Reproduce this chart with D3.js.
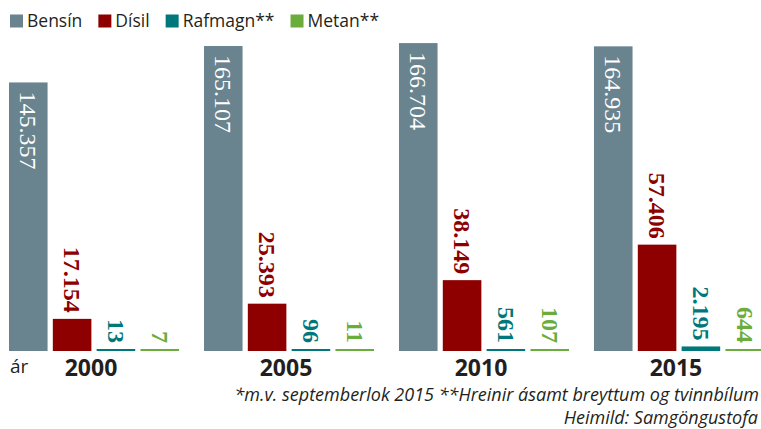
<!DOCTYPE html>
<html>
<head>
<meta charset="utf-8">
<script src="https://cdn.jsdelivr.net/npm/d3@7"></script>
<style>
	html, body { margin: 0; padding: 0; background: #fff; }
	svg { display: block; }
</style>
</head>
<body>
<div id="chart"></div>
<script>
// data
const years = ['2000', '2005', '2010', '2015'];
const series = ['Bensín', 'Dísil', 'Rafmagn**', 'Metan**'];
const bensin = [145357, 165107, 166704, 164935];
const disil = [17154, 25393, 38149, 57406];
const rafmagn = [13, 96, 561, 2195];
const metan = [7, 11, 107, 644];
const colors = ['#69848f', '#8e0000', '#00787b', '#6aad3c'];
const footnote = '*m.v. septemberlok 2015 **Hreinir ásamt breyttum og tvinnbílum';
const source = 'Heimild: Samgöngustofa';

const values = [bensin, disil, rafmagn, metan];
const width = 761, height = 429;
const ink = '#231f20';
const sans = '"Open Sans", sans-serif';
const serif = '"Liberation Serif", serif';

const locale = d3.formatLocale({decimal: ',', thousands: '.', grouping: [3], currency: ['', '']});
const fmt = locale.format(',');

const svg = d3.select('#chart').append('svg')
	.attr('width', width)
	.attr('height', height);

// scales
const x0 = d3.scaleBand()
	.domain(years)
	.range([9, 764])
	.paddingInner(0.128);

const x1 = d3.scaleBand()
	.domain(series)
	.range([0, x0.bandwidth()])
	.paddingInner(0.12);

const y = d3.scaleLinear()
	.domain([0, 170000])
	.range([351, 37.5]);

const color = d3.scaleOrdinal().domain(series).range(colors);

// flatten into bar records
const bars = [];
years.forEach((yr, i) => {
	series.forEach((s, j) => {
		bars.push({year: yr, key: s, value: values[j][i], idx: j});
	});
});

const barTop = d => Math.min(y(d.value) - 0.5, y(0) - 2);

const groups = svg.append('g').classed('bars', true);

groups.selectAll('rect')
	.data(bars)
	.join('rect')
	.attr('x', d => x0(d.year) + x1(d.key))
	.attr('width', x1.bandwidth())
	.attr('y', barTop)
	.attr('height', d => y(0) - barTop(d))
	.attr('fill', d => color(d.key));

// value labels, turned to read top to bottom
groups.selectAll('text')
	.data(bars)
	.join('text')
	.attr('transform', d => {
		const cx = x0(d.year) + x1(d.key) + x1.bandwidth() / 2;
		const ty = d.idx === 0 ? barTop(d) + 9 : barTop(d) - 6;
		return `translate(${cx}, ${ty}) rotate(90)`;
	})
	.attr('dy', '0.34em')
	.attr('text-anchor', d => d.idx === 0 ? 'start' : 'end')
	.attr('font-family', serif)
	.attr('font-size', 24)
	.attr('font-weight', d => d.idx === 0 ? 'normal' : 'bold')
	.attr('fill', d => d.idx === 0 ? '#fff' : color(d.key))
	.text(d => fmt(d.value));

// year labels
svg.append('g')
	.selectAll('text')
	.data(years)
	.join('text')
	.attr('x', d => x0(d) + x0.bandwidth() / 2 - 3)
	.attr('y', 376)
	.attr('text-anchor', 'middle')
	.attr('font-family', sans)
	.attr('font-weight', 'bold')
	.attr('font-size', 23)
	.attr('fill', ink)
	.text(d => d);

svg.append('text')
	.attr('x', 10)
	.attr('y', 373)
	.attr('font-family', sans)
	.attr('font-size', 19)
	.attr('fill', ink)
	.text('ár');

// legend
const legend = svg.append('g').classed('legend', true);
let lx = 10;
series.forEach(s => {
	legend.append('rect')
		.attr('x', lx)
		.attr('y', 14.5)
		.attr('width', 13)
		.attr('height', 13)
		.attr('fill', color(s));
	const t = legend.append('text')
		.attr('x', lx + 17)
		.attr('y', 27)
		.attr('font-family', sans)
		.attr('font-size', 17.5)
		.attr('fill', ink)
		.text(s);
	lx += 17 + t.node().getComputedTextLength() + 16;
});

// notes
svg.append('text')
	.attr('x', 759)
	.attr('y', 401)
	.attr('text-anchor', 'end')
	.attr('font-family', sans)
	.attr('font-style', 'italic')
	.attr('font-size', 18)
	.attr('fill', ink)
	.text(footnote);

svg.append('text')
	.attr('x', 758)
	.attr('y', 424)
	.attr('text-anchor', 'end')
	.attr('font-family', sans)
	.attr('font-style', 'italic')
	.attr('font-size', 18)
	.attr('fill', ink)
	.text(source);
</script>
</body>
</html>
